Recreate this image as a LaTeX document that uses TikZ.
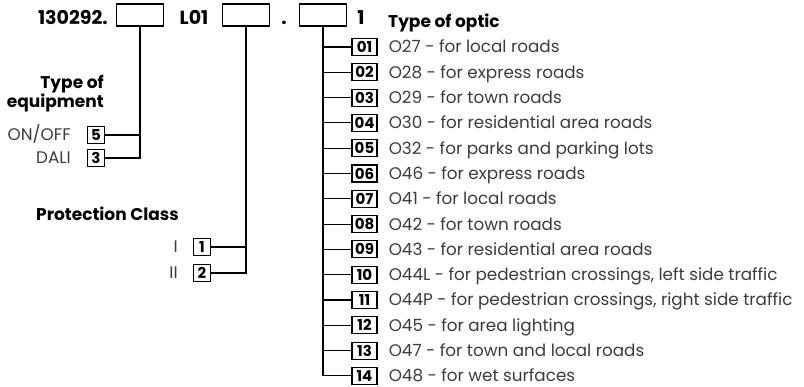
\documentclass[tikz,border=0pt]{standalone}
\usepackage{fontspec}
\setmainfont{Poppins}
\usetikzlibrary{positioning}
\definecolor{inkgrey}{HTML}{3C3C3C}

\begin{document}
\begin{tikzpicture}[x=1pt,y=-1pt,
  codebox/.style={draw,line width=1.1pt,minimum width=47pt,minimum height=22pt,inner sep=0pt},
  optbox/.style={draw,line width=1.1pt,minimum width=25pt,minimum height=17pt,inner sep=0pt,
    font=\fontsize{15}{15}\selectfont\bfseries},
  digbox/.style={optbox,minimum width=17pt},
  lbl/.style={font=\fontsize{16.8}{16.8}\selectfont,text=inkgrey,inner sep=0pt,
    text height=15pt,text depth=3pt},
  head/.style={font=\fontsize{17}{19}\selectfont\bfseries,inner sep=0pt},
  code/.style={font=\fontsize{19}{19}\selectfont\bfseries,inner sep=0pt,anchor=base},
  link/.style={line width=1.1pt}
]
\useasboundingbox (0,0) rectangle (804,387);

\node[code,anchor=base east] (pre) at (108,25) {130292.};
\node[codebox] (b1) at (140,15) {};
\node[code] (mid) at (194,25) {L01};
\node[codebox] (b2) at (246,15) {};
\node[code] (dot) at (284,25) {.};
\node[codebox] (b3) at (323,15) {};
\node[code] (one) at (361,25) {1};

\node[head,align=right,anchor=east] (eqt) at (104,94) {Type of\\equipment};
\node[digbox] (e5) at (96,135) {5};
\node[lbl,left=16pt of e5] (onoff) {ON/OFF};
\node[digbox] (e3) at (96,158) {3};
\node[lbl,left=16pt of e3] (dali) {DALI};
\draw[link] (b1.south) |- (e3.east);
\draw[link] (e5.east) -- (e5.east -| b1.south);

\node[head,anchor=west] (prot) at (36,214) {Protection Class};
\node[digbox] (p1) at (202,247) {1};
\node[lbl,left=15pt of p1] (cl1) {I};
\node[digbox] (p2) at (202,273) {2};
\node[lbl,left=15pt of p2] (cl2) {II};
\draw[link] (b2.south) |- (p2.east);
\draw[link] (p1.east) -- (p1.east -| b2.south);

\node[head,anchor=west] (opt) at (388,23) {Type of optic};
\foreach \num/\desc [count=\i] in {
  01/O27 - for local roads,
  02/O28 - for express roads,
  03/O29 - for town roads,
  04/O30 - for residential area roads,
  05/O32 - for parks and parking lots,
  06/O46 - for express roads,
  07/O41 - for local roads,
  08/O42 - for town roads,
  09/O43 - for residential area roads,
  10/{O44L - for pedestrian crossings, left side traffic},
  11/{O44P - for pedestrian crossings, right side traffic},
  12/O45 - for area lighting,
  13/O47 - for town and local roads,
  14/O48 - for wet surfaces} {
  \node[optbox] (o\i) at (364.5,{47+25.3*(\i-1)}) {\num};
  \node[lbl,right=11pt of o\i] (t\i) {\desc};
  \draw[link] (o\i.west) -- (o\i.west -| b3.south);
}
\draw[link] (b3.south) -- (o14.west -| b3.south);
\end{tikzpicture}
\end{document}
